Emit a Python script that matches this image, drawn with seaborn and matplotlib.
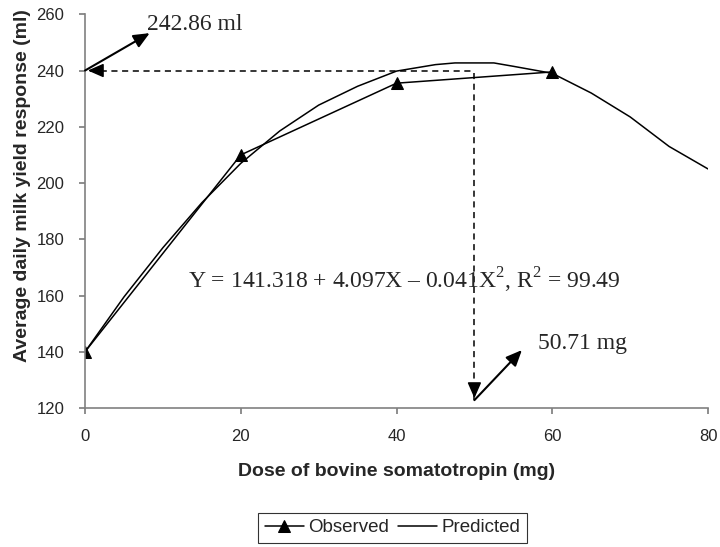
import numpy as np
import pandas as pd
import seaborn as sns
import matplotlib
matplotlib.use("Agg")
import matplotlib.pyplot as plt

# observed points
obs_dose = [0, 20, 40, 60]
obs_yield = [140, 210, 235.5, 239.5]

# predicted curve
pred_dose = [0, 5, 10, 15, 20, 25, 30, 35, 40, 45, 47.5, 52.5, 55, 60, 65, 70, 75, 80]
pred_yield = [140, 159.5, 177, 193, 207, 218.5, 227.7, 234.4, 239.8, 242.1, 242.7,
              242.7, 241.5, 239, 232, 223.5, 213, 205]

opt_dose = 50
opt_yield = 240
eq_text = "Y = 141.318 + 4.097X \u2013 0.041X$^2$, R$^2$ = 99.49"

sns.set_theme(style="ticks")
plt.rcParams['font.family'] = ['Liberation Sans', 'DejaVu Sans']
plt.rcParams['mathtext.fontset'] = 'custom'
plt.rcParams['mathtext.rm'] = 'Liberation Serif'

fig = plt.figure(figsize=(7.2, 5.47), dpi=100)
ax = fig.add_axes([0.1181, 0.2541, 0.8653, 0.7198])

obs = pd.DataFrame({'dose': obs_dose, 'yield': obs_yield})
pred = pd.DataFrame({'dose': pred_dose, 'yield': pred_yield})

sns.lineplot(data=obs, x='dose', y='yield', ax=ax, color='black', lw=1.1,
             marker='^', markersize=9, markeredgecolor='black', label='Observed')
sns.lineplot(data=pred, x='dose', y='yield', ax=ax, color='black', lw=1.1,
             label='Predicted')

head = dict(arrowstyle='-|>,head_length=0.8,head_width=0.35', color='black')

# dashed guide lines to the optimum
ax.plot([0.6, opt_dose], [opt_yield, opt_yield], ls=(0, (4, 3)), color='black', lw=1.1)
ax.plot([opt_dose, opt_dose], [opt_yield - 1, 123], ls=(0, (4, 3)), color='black', lw=1.1)
ax.annotate('', xy=(0, opt_yield), xytext=(2.5, opt_yield),
            arrowprops=dict(head, lw=1.1))
ax.annotate('', xy=(opt_dose, 122.5), xytext=(opt_dose, 128),
            arrowprops=dict(head, lw=1.1))

# pointer arrows with labels
ax.annotate('', xy=(8.3, 253.3), xytext=(0, 240),
            arrowprops=dict(head, lw=1.5, shrinkA=0, shrinkB=0))
ax.text(7.9, 254.4, '242.86 ml', family='Liberation Serif', fontsize=17, va='baseline')
ax.annotate('', xy=(56.1, 140.6), xytext=(opt_dose, 122.8),
            arrowprops=dict(head, lw=1.5, shrinkA=0, shrinkB=0))
ax.text(58.2, 140.9, '50.71 mg', family='Liberation Serif', fontsize=17, va='baseline')

ax.text(13.2, 162.6, eq_text, family='Liberation Serif', fontsize=17, va='baseline')

ax.set_xlim(0, 80)
ax.set_ylim(120, 260)
ax.set_xticks(range(0, 81, 20))
ax.set_yticks(range(120, 261, 20))
ax.tick_params(labelsize=12, length=4, color='#808080', direction='out', pad=11)
for s in ['top', 'right']:
    ax.spines[s].set_visible(False)
for s in ['left', 'bottom']:
    ax.spines[s].set_color('#808080')
    ax.spines[s].set_linewidth(1.2)

ax.set_xlabel('Dose of bovine somatotropin (mg)', fontsize=14, fontweight='bold')
ax.set_ylabel('Average daily milk yield response (ml)', fontsize=14, fontweight='bold')
ax.xaxis.set_label_coords(0.5, -0.14)
ax.yaxis.set_label_coords(-0.086, 0.564)

leg = ax.legend(loc='center', bbox_to_anchor=(0.545, 0.035), bbox_transform=fig.transFigure,
                ncol=2, frameon=True, fancybox=False, fontsize=13.5, handlelength=2.1,
                columnspacing=0.5, handletextpad=0.2, borderpad=0.35)
leg.get_frame().set_edgecolor('black')
leg.get_frame().set_linewidth(0.8)

fig.savefig('out.png', dpi=100)
